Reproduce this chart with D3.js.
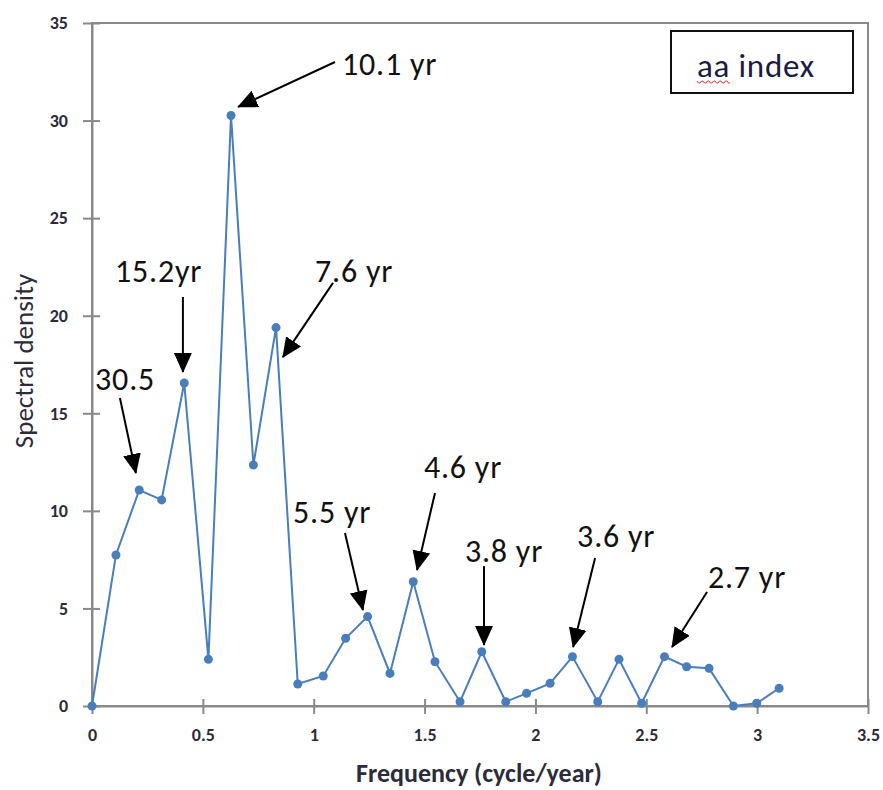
<!DOCTYPE html>
<html>
<head>
<meta charset="utf-8">
<script src="https://cdn.jsdelivr.net/npm/d3@7"></script>
<style>
  body { margin: 0; background: #fff; }
  svg { font-family: Carlito, Calibri, Lato, sans-serif; }
</style>
</head>
<body>
<script>
// values
var freq = [0, 0.108, 0.213, 0.314, 0.416, 0.525, 0.627, 0.728, 0.830, 0.928,
            1.043, 1.144, 1.243, 1.344, 1.449, 1.547, 1.660, 1.758, 1.866, 1.960,
            2.066, 2.167, 2.281, 2.377, 2.479, 2.582, 2.682, 2.783, 2.893, 2.998, 3.099];
var density = [0, 7.74, 11.07, 10.56, 16.55, 2.39, 30.26, 12.35, 19.39, 1.13,
               1.54, 3.47, 4.58, 1.67, 6.37, 2.27, 0.22, 2.78, 0.22, 0.65,
               1.16, 2.53, 0.22, 2.39, 0.14, 2.53, 2.01, 1.93, 0.0, 0.14, 0.91];
var xTicks = [0, 0.5, 1, 1.5, 2, 2.5, 3, 3.5];
var yTicks = [0, 5, 10, 15, 20, 25, 30, 35];

// period labels, in data units (text corner, arrow start, arrow tip)
var labels = ["10.1 yr", "7.6 yr", "15.2yr", "30.5", "5.5 yr", "4.6 yr", "3.8 yr", "3.6 yr", "2.7 yr"];
var labelAt = [[1.128, 32.34], [1.006, 21.73], [0.104, 21.73], [0.014, 16.19], [0.907, 9.38],
               [1.497, 11.68], [1.682, 7.38], [2.188, 8.15], [2.778, 6.05]];
var arrowFrom = [[1.096, 33.0], [1.087, 21.68], [0.410, 20.96], [0.126, 15.78], [1.141, 8.87],
                 [1.547, 10.92], [1.768, 7.17], [2.269, 7.58], [2.774, 5.84]];
var arrowTo = [[0.659, 30.70], [0.861, 17.88], [0.410, 17.12], [0.198, 11.94], [1.222, 4.92],
               [1.466, 6.97], [1.768, 3.13], [2.170, 3.02], [2.616, 3.02]];

var w = 883, h = 790;
var margin = {top: 23, right: 15, bottom: 84, left: 92};

var svg = d3.select("body").append("svg")
  .attr("width", w)
  .attr("height", h);

svg.append("rect").attr("width", w).attr("height", h).attr("fill", "#fff");

var x = d3.scaleLinear().domain([0, 3.5]).range([margin.left, w - margin.right]);
var y = d3.scaleLinear().domain([0, 35]).range([h - margin.bottom, margin.top]);

var axisColor = "#898989";
var font = "Carlito, Calibri, Lato, sans-serif";

// plot area border (top and right)
svg.append("rect")
  .attr("x", x(0)).attr("y", y(35))
  .attr("width", x(3.5) - x(0)).attr("height", y(0) - y(35))
  .attr("fill", "none")
  .attr("stroke", axisColor)
  .attr("stroke-width", 2);

// x axis
var gx = svg.append("g")
  .attr("transform", "translate(0," + y(0) + ")")
  .call(d3.axisBottom(x).tickValues(xTicks).tickSizeInner(8).tickSizeOuter(0).tickPadding(14)
    .tickFormat(d3.format("")));
gx.select(".domain").attr("stroke", axisColor).attr("stroke-width", 2);
gx.selectAll(".tick line").attr("y1", -7).attr("stroke", axisColor).attr("stroke-width", 2);
gx.selectAll(".tick text")
  .attr("font-size", "18px").attr("font-weight", "bold").attr("fill", "#2b2b3a")
  .attr("font-family", font);

// y axis
var gy = svg.append("g")
  .attr("transform", "translate(" + x(0) + ",0)")
  .call(d3.axisLeft(y).tickValues(yTicks).tickSizeInner(9).tickSizeOuter(0).tickPadding(15));
gy.select(".domain").attr("stroke", axisColor).attr("stroke-width", 2);
gy.selectAll(".tick line").attr("x1", -9).attr("x2", 8).attr("stroke", axisColor).attr("stroke-width", 2);
gy.selectAll(".tick text")
  .attr("font-size", "18px").attr("font-weight", "bold").attr("fill", "#2b2b3a")
  .attr("font-family", font);

// axis titles
svg.append("text")
  .attr("x", (x(0) + x(3.5)) / 2 - 1)
  .attr("y", 782)
  .attr("text-anchor", "middle")
  .attr("font-size", "26px")
  .attr("font-weight", "bold")
  .attr("fill", "#2b2b3a")
  .text("Frequency (cycle/year)");

svg.append("text")
  .attr("transform", "translate(33," + 361 + ") rotate(-90)")
  .attr("text-anchor", "middle")
  .attr("font-size", "27px")
  .attr("fill", "#2b2b3a")
  .text("Spectral density");

// series
var pts = freq.map(function(f, i) { return [f, density[i]]; });
var blue = "#4a7ebb";

svg.append("path")
  .datum(pts)
  .attr("fill", "none")
  .attr("stroke", blue)
  .attr("stroke-width", 2)
  .attr("d", d3.line().x(function(d) { return x(d[0]); }).y(function(d) { return y(d[1]); }));

svg.selectAll(".dot")
  .data(pts)
  .enter().append("circle")
  .attr("class", "dot")
  .attr("cx", function(d) { return x(d[0]); })
  .attr("cy", function(d) { return y(d[1]); })
  .attr("r", 4.5)
  .attr("fill", blue);

// arrows + labels
svg.append("defs").append("marker")
  .attr("id", "head")
  .attr("markerUnits", "userSpaceOnUse")
  .attr("viewBox", "0 -10 20 20")
  .attr("refX", 19).attr("refY", 0)
  .attr("markerWidth", 20).attr("markerHeight", 20)
  .attr("orient", "auto")
  .append("path")
  .attr("d", "M0,-9L20,0L0,9Z")
  .attr("fill", "#000");

labels.forEach(function(t, i) {
  svg.append("line")
    .attr("x1", x(arrowFrom[i][0])).attr("y1", y(arrowFrom[i][1]))
    .attr("x2", x(arrowTo[i][0])).attr("y2", y(arrowTo[i][1]))
    .attr("stroke", "#000")
    .attr("stroke-width", 2)
    .attr("marker-end", "url(#head)");
  svg.append("text")
    .attr("x", x(labelAt[i][0]))
    .attr("y", y(labelAt[i][1]))
    .attr("font-size", "32px")
    .attr("letter-spacing", "0.8px")
    .attr("fill", "#111")
    .text(t);
});

// legend-like text box
var box = svg.append("g");
box.append("rect")
  .attr("x", 671).attr("y", 31)
  .attr("width", 182).attr("height", 62)
  .attr("fill", "#fff")
  .attr("stroke", "#111")
  .attr("stroke-width", 2);
box.append("text")
  .attr("x", 697).attr("y", 77)
  .attr("font-size", "33px")
  .attr("letter-spacing", "0.8px")
  .attr("fill", "#1a1a40")
  .text("aa index");
// spell-check squiggle under "aa"
var sq = "M697,81";
for (var k = 0; k < 11; k++) { sq += "l1.5," + (k % 2 ? -2 : 2) + "l1.5,0"; }
box.append("path").attr("d", sq).attr("fill", "none").attr("stroke", "#e33").attr("stroke-width", 1);
</script>
</body>
</html>
